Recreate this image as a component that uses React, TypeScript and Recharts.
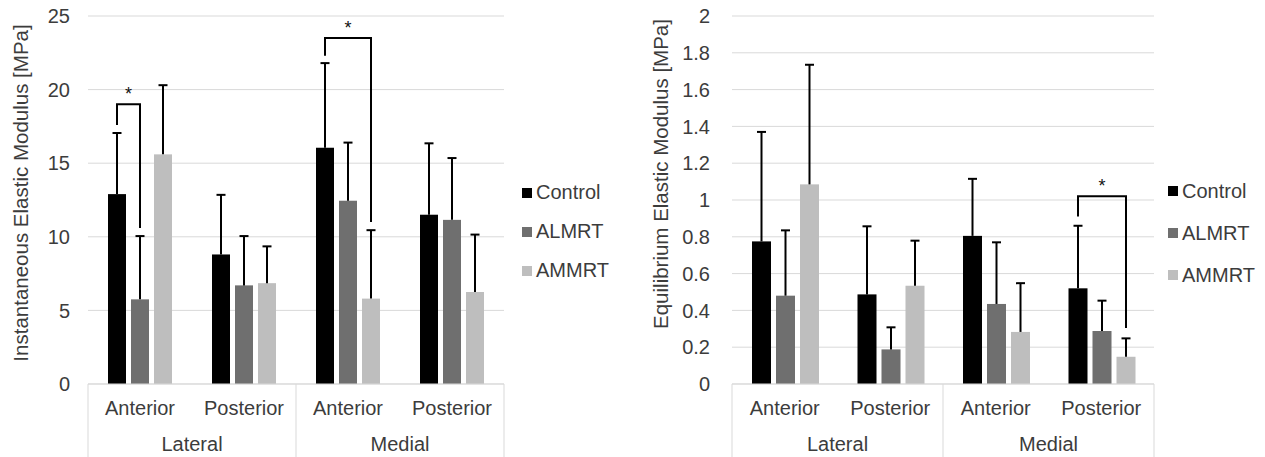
import React from 'react';
import { BarChart, Bar, XAxis, YAxis, CartesianGrid, Legend } from 'recharts';

const categories = ['Anterior', 'Posterior', 'Anterior', 'Posterior'];
const regions = ['Lateral', 'Lateral', 'Medial', 'Medial'];
const seriesNames = ['Control', 'ALMRT', 'AMMRT'];
const COLORS = ['#000000', '#6f6f6f', '#bebebe'];

// instantaneous elastic modulus [MPa]: mean and +SD
const instControl = [12.9, 8.8, 16.05, 11.5];
const instControlSd = [4.15, 4.05, 5.75, 4.85];
const instAlmrt = [5.75, 6.7, 12.45, 11.15];
const instAlmrtSd = [4.3, 3.35, 3.95, 4.2];
const instAmmrt = [15.6, 6.85, 5.8, 6.25];
const instAmmrtSd = [4.7, 2.5, 4.65, 3.9];
const instTicks = [0, 5, 10, 15, 20, 25];

// equilibrium elastic modulus [MPa]: mean and +SD
const eqControl = [0.775, 0.487, 0.805, 0.52];
const eqControlSd = [0.595, 0.37, 0.31, 0.34];
const eqAlmrt = [0.48, 0.188, 0.435, 0.288];
const eqAlmrtSd = [0.355, 0.12, 0.335, 0.165];
const eqAmmrt = [1.085, 0.534, 0.283, 0.148];
const eqAmmrtSd = [0.65, 0.245, 0.265, 0.1];
const eqTicks = [0, 0.2, 0.4, 0.6, 0.8, 1, 1.2, 1.4, 1.6, 1.8, 2];

// significance brackets (axis units): category, from/to series, leg ends, bar level
type Bracket = { cat: number; from: number; to: number; fromEnd: number; toEnd: number; level: number };
const instBrackets: Bracket[] = [
  { cat: 0, from: 0, to: 1, fromEnd: 17.6, toEnd: 10.6, level: 19.0 },
  { cat: 2, from: 0, to: 2, fromEnd: 22.3, toEnd: 11.0, level: 23.5 },
];
const eqBrackets: Bracket[] = [{ cat: 3, from: 0, to: 2, fromEnd: 0.91, toEnd: 0.305, level: 1.02 }];

const FONT = '"Liberation Sans", Arial, sans-serif';
const TEXT = '#3c3c3c';
const GRID = '#d9d9d9';
const BAR_GAP = 5;
const FS = 20;

const buildRows = (vals: number[][], sds: number[][]) =>
  categories.map((c, i) => {
    const row: any = { key: `${regions[i]}|${c}`, idx: i };
    seriesNames.forEach((s, j) => {
      row[s] = vals[j][i];
      row[s + 'Sd'] = sds[j][i];
    });
    return row;
  });

const instRows = buildRows([instControl, instAlmrt, instAmmrt], [instControlSd, instAlmrtSd, instAmmrtSd]);
const eqRows = buildRows([eqControl, eqAlmrt, eqAmmrt], [eqControlSd, eqAlmrtSd, eqAmmrtSd]);

// bar with one-sided error bar (and any significance bracket starting from it)
const makeShape = (name: string, si: number, brackets: Bracket[]) => (p: any) => {
  const { x, y, width, height, fill, payload } = p;
  const v = payload[name];
  const base = y + height;
  const k = height / v;
  const toY = (u: number) => base - u * k;
  const cx = x + width / 2;
  const errY = toY(v + payload[name + 'Sd']);
  const step = width + BAR_GAP;
  const mine = brackets.filter((b) => b.cat === payload.idx && b.from === si);
  return (
    <g>
      <rect x={x} y={y} width={width} height={height} fill={fill} />
      <line x1={cx} y1={y} x2={cx} y2={errY} stroke="#000" strokeWidth={2} />
      <line x1={cx - 4.5} y1={errY} x2={cx + 4.5} y2={errY} stroke="#000" strokeWidth={2} />
      {mine.map((b, i) => {
        const x2 = cx + (b.to - b.from) * step;
        const ly = toY(b.level);
        return (
          <g key={i}>
            <polyline
              points={`${cx},${toY(b.fromEnd)} ${cx},${ly} ${x2},${ly} ${x2},${toY(b.toEnd)}`}
              fill="none"
              stroke="#000"
              strokeWidth={2}
            />
            <text x={(cx + x2) / 2} y={ly - 4} textAnchor="middle" fontSize={18} fill="#111">
              *
            </text>
          </g>
        );
      })}
    </g>
  );
};

// two-level category axis like Excel
const makeCatTick = (band: number) => (p: any) => {
  const { x, y } = p;
  const i = p.index ?? p.payload?.index ?? 0;
  const start = i === 0 || regions[i] !== regions[i - 1];
  let n = 1;
  while (start && i + n < regions.length && regions[i + n] === regions[i]) n++;
  const last = i === categories.length - 1;
  return (
    <g>
      <text x={x} y={y + 31} textAnchor="middle" fontSize={FS} fill={TEXT}>
        {categories[i]}
      </text>
      {start && (
        <>
          <line x1={x - band / 2} y1={y} x2={x - band / 2} y2={y + 80} stroke={GRID} />
          <text x={x + ((n - 1) * band) / 2} y={y + 67} textAnchor="middle" fontSize={FS} fill={TEXT}>
            {regions[i]}
          </text>
        </>
      )}
      {last && <line x1={x + band / 2} y1={y} x2={x + band / 2} y2={y + 80} stroke={GRID} />}
    </g>
  );
};

const makeLegend = (rowH: number) => (props: any) => {
  const items = [...(props.payload || [])].sort(
    (a: any, b: any) => seriesNames.indexOf(a.value) - seriesNames.indexOf(b.value),
  );
  return (
    <div style={{ fontFamily: FONT }}>
      {items.map((e: any) => (
        <div key={e.value} style={{ display: 'flex', alignItems: 'center', height: rowH }}>
          <span style={{ width: 10, height: 10, background: e.color, marginRight: 4, display: 'inline-block' }} />
          <span style={{ fontSize: FS, color: TEXT }}>{e.value}</span>
        </div>
      ))}
    </div>
  );
};

type PanelProps = {
  rows: any[];
  width: number;
  yWidth: number;
  right: number;
  ticks: number[];
  max: number;
  title: string;
  titleY: number;
  brackets: Bracket[];
  legendLeft: number;
  legendTop: number;
  legendRow: number;
};

function Panel(props: PanelProps) {
  const { rows, width, yWidth, right, ticks, max, title, titleY, brackets } = props;
  const band = (width - yWidth - right) / categories.length;
  return (
    <BarChart
      width={width}
      height={457}
      data={rows}
      margin={{ top: 16, right, bottom: 0, left: 0 }}
      barCategoryGap={20}
      barGap={BAR_GAP}
    >
      <CartesianGrid vertical={false} stroke={GRID} />
      <XAxis
        dataKey="key"
        height={73}
        interval={0}
        tickLine={false}
        tickSize={0}
        tickMargin={0}
        axisLine={{ stroke: GRID }}
        tick={makeCatTick(band)}
      />
      <YAxis
        width={yWidth}
        domain={[0, max]}
        ticks={ticks}
        axisLine={false}
        tickLine={false}
        tickSize={0}
        tickMargin={yWidth - 70}
        tick={{ fill: TEXT, fontSize: FS }}
        label={{
          content: () => (
            <text
              x={28}
              y={titleY}
              transform={`rotate(-90 28 ${titleY})`}
              textAnchor="middle"
              fontSize={20.5}
              fill={TEXT}
            >
              {title}
            </text>
          ),
        }}
      />
      <Legend
        layout="vertical"
        align="center"
        verticalAlign="middle"
        wrapperStyle={{ left: props.legendLeft, top: props.legendTop, width: 110 }}
        content={makeLegend(props.legendRow)}
      />
      {seriesNames.map((s, i) => (
        <Bar
          key={s}
          dataKey={s}
          name={s}
          fill={COLORS[i]}
          isAnimationActive={false}
          shape={makeShape(s, i, brackets)}
        />
      ))}
    </BarChart>
  );
}

export default function App() {
  return (
    <div style={{ position: 'absolute', left: 0, top: 0, width: 1265, height: 457, background: '#fff', fontFamily: FONT }}>
      <div style={{ position: 'absolute', left: 0, top: 0 }}>
        <Panel
          rows={instRows}
          width={640}
          yWidth={88}
          right={136}
          ticks={instTicks}
          max={25}
          title="Instantaneous Elastic Modulus [MPa]"
          titleY={193}
          brackets={instBrackets}
          legendLeft={522}
          legendTop={173}
          legendRow={39}
        />
      </div>
      <div style={{ position: 'absolute', left: 640, top: 0 }}>
        <Panel
          rows={eqRows}
          width={625}
          yWidth={92}
          right={111}
          ticks={eqTicks}
          max={2}
          title="Equilibrium Elastic Modulus [MPa]"
          titleY={174}
          brackets={eqBrackets}
          legendLeft={528}
          legendTop={170}
          legendRow={42}
        />
      </div>
    </div>
  );
}
